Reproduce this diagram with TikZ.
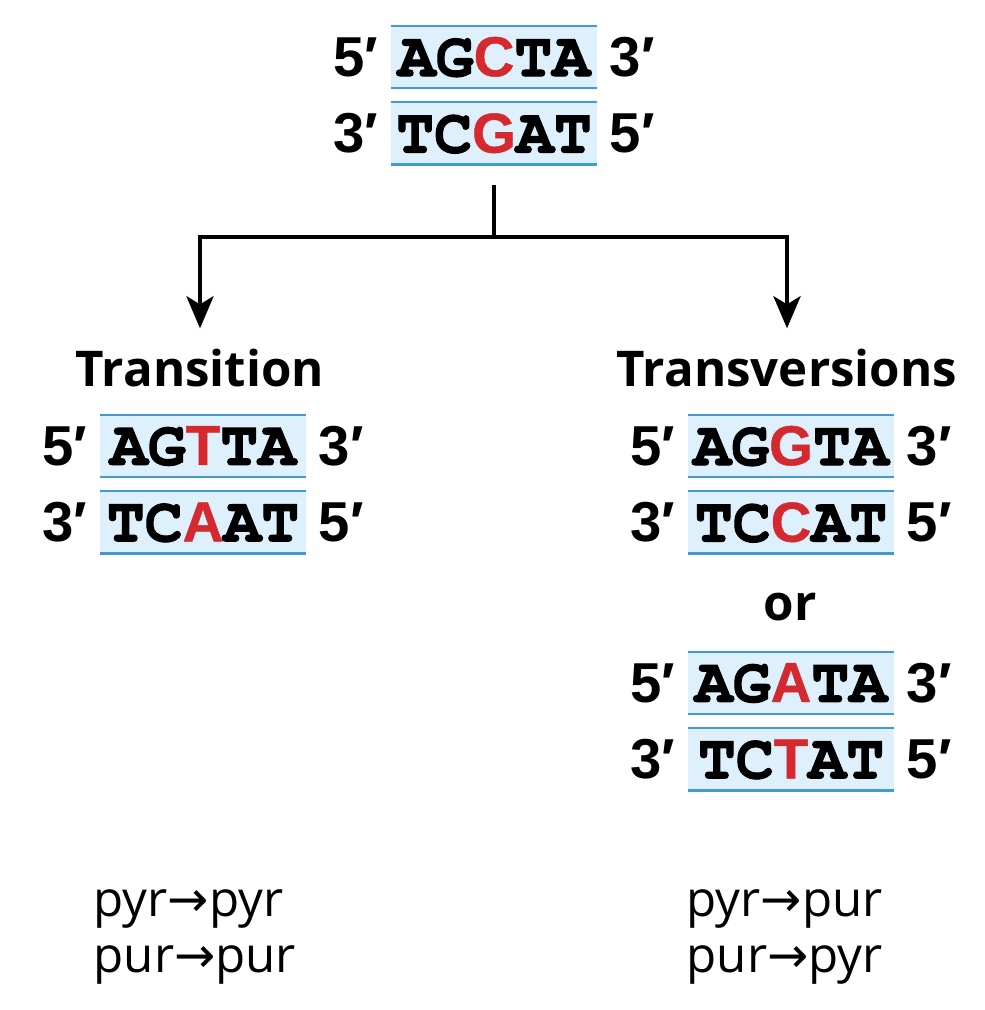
\documentclass[tikz,border=0pt]{standalone}
\usepackage{fontspec}
\setmainfont{Open Sans}
\newfontfamily\seqfont[BoldFeatures = {FakeBold = 1.6}]{TeX Gyre Cursor}
\newfontfamily\tagfont{Liberation Sans}
\newfontfamily\mutfont[BoldFeatures = {FakeBold = 0.8}]{Liberation Sans}
\newfontfamily\arrfont{DejaVu Sans}
\usepackage{xcolor}
\usetikzlibrary{arrows.meta,positioning}

\definecolor{mutred}{HTML}{D42A2F}
\definecolor{boxfill}{HTML}{DDF0FB}
\definecolor{boxline}{HTML}{3F9AD6}
\newcommand{\mut}[1]{\textcolor{mutred}{\mutfont\bfseries\fontsize{16}{18}\selectfont #1}}
\newcommand{\arr}{{\arrfont →}}

\begin{document}
\begin{tikzpicture}[x = 0.01cm, y = -0.01cm,
	strand/.style = {fill = boxfill, minimum width = 2.05cm, minimum height = 0.61cm, inner sep = 0pt,
		font = \seqfont\bfseries\fontsize{18}{20}\selectfont,
		append after command = {(\tikzlastnode.north west) edge[rule] (\tikzlastnode.north east)
			(\tikzlastnode.south west) edge[rule] (\tikzlastnode.south east)}},
	rule/.style = {draw = boxline, line width = 0.7pt},
	tag/.style = {font = \tagfont\bfseries\fontsize{16}{18}\selectfont, inner sep = 0pt},
	heading/.style = {font = \bfseries\fontsize{14}{16}\selectfont, inner sep = 0pt},
	note/.style = {font = \fontsize{14}{16}\selectfont, inner sep = 0pt, anchor = base west},
	link/.style = {line width = 1.3pt},
	>={Stealth[length = 0.32cm, width = 0.27cm, inset = 0.08cm]}]
	\useasboundingbox (0,0) rectangle (984,1010);

	% original duplex
	\node[strand](o1) at (494,57){AG\mut{C}TA};
	\node[strand](o2)[below = 0.14cm of o1]{TC\mut{G}AT};
	\node[tag](o1l)[left = 0.12cm of o1]{5′};
	\node[tag](o1r)[right = 0.12cm of o1]{3′};
	\node[tag](o2l)[left = 0.12cm of o2]{3′};
	\node[tag](o2r)[right = 0.12cm of o2]{5′};

	\node[heading](trs) at (200,368){Transition};
	\node[heading](trv) at (787,368){Transversions};

	% branches
	\coordinate (split) at (494,237);
	\draw[link, shorten < = 0.2cm] (o2.south) -- (split);
	\draw[link, ->, shorten > = 0.2cm] (split) -| (trs.north);
	\draw[link, ->, shorten > = 0.2cm] (split) -| (trv.north);

	% transition
	\node[strand](a1) at (203,446){AG\mut{T}TA};
	\node[strand](a2)[below = 0.14cm of a1]{TC\mut{A}AT};
	\node[tag](a1l)[left = 0.12cm of a1]{5′};
	\node[tag](a1r)[right = 0.12cm of a1]{3′};
	\node[tag](a2l)[left = 0.12cm of a2]{3′};
	\node[tag](a2r)[right = 0.12cm of a2]{5′};

	% transversions
	\node[strand](b1) at (791,446){AG\mut{G}TA};
	\node[strand](b2)[below = 0.14cm of b1]{TC\mut{C}AT};
	\node[tag](b1l)[left = 0.12cm of b1]{5′};
	\node[tag](b1r)[right = 0.12cm of b1]{3′};
	\node[tag](b2l)[left = 0.12cm of b2]{3′};
	\node[tag](b2r)[right = 0.12cm of b2]{5′};

	\node[heading](or) at (790,607){or};

	\node[strand](c1) at (791,683){AG\mut{A}TA};
	\node[strand](c2)[below = 0.14cm of c1]{TC\mut{T}AT};
	\node[tag](c1l)[left = 0.12cm of c1]{5′};
	\node[tag](c1r)[right = 0.12cm of c1]{3′};
	\node[tag](c2l)[left = 0.12cm of c2]{3′};
	\node[tag](c2r)[right = 0.12cm of c2]{5′};

	% base classes
	\node[note](n1) at (93,916){pyr\arr pyr};
	\node[note](n2) at (93,972){pur\arr pur};
	\node[note](n3) at (686,916){pyr\arr pur};
	\node[note](n4) at (686,972){pur\arr pyr};
\end{tikzpicture}
\end{document}
